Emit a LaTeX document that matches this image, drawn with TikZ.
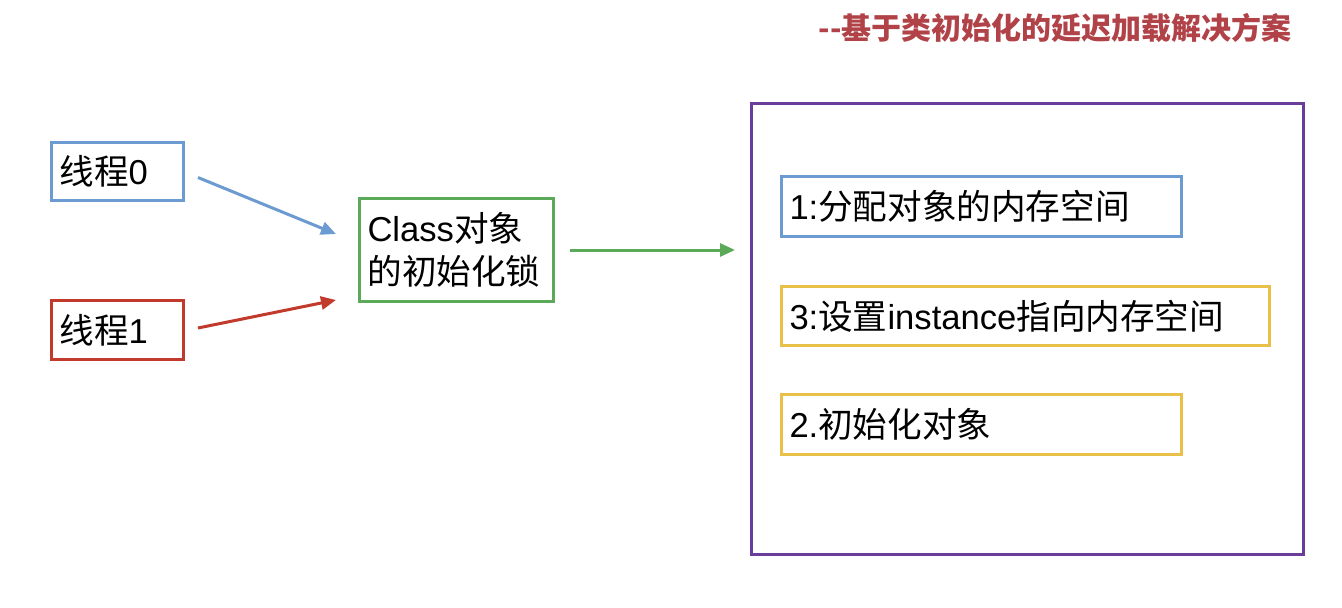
\documentclass[tikz,border=0pt]{standalone}
\usepackage{fontspec}
\setmainfont{Liberation Sans}
\newfontfamily\cjk{Noto Sans CJK SC}
\usetikzlibrary{arrows.meta}
\definecolor{cblue}{HTML}{6C9BD2}
\definecolor{cred}{HTML}{C23A2B}
\definecolor{cgreen}{HTML}{5AAA5A}
\definecolor{cpurple}{HTML}{6A3D9A}
\definecolor{cyellow}{HTML}{E8C04A}
\definecolor{ctitle}{HTML}{B04248}
\tikzset{
  box/.style={draw, line width=3pt, anchor=north west, inner xsep=8pt, inner ysep=0pt, align=left, font=\fontsize{34.6}{43}\selectfont},
  conn/.style={line width=3pt, -{Triangle[length=15pt,width=13pt]}},
}
\begin{document}
\begin{tikzpicture}[x=1pt,y=-1pt]
\fill[white] (0,0) rectangle (1342,608);
\useasboundingbox (0,0) rectangle (1342,608);
\node[font=\cjk\bfseries\fontsize{30}{36}\selectfont, text=ctitle, anchor=east, inner sep=0pt] (title) at (1292,28) {--基于类初始化的延迟加载解决方案};
\node[box, draw=cblue, text width=116pt, minimum height=58pt] (t0) at (50,141) {{\cjk 线程}0};
\node[box, draw=cred, text width=116pt, minimum height=59pt] (t1) at (50,299) {{\cjk 线程}1};
\node[box, draw=cgreen, text width=178pt, minimum height=103pt] (cls) at (358,197) {Class{\cjk 对象}\\{\cjk 的初始化锁}};
\node[draw=cpurple, line width=3pt, anchor=north west, minimum width=552pt, minimum height=451pt, inner sep=0pt] (big) at (750,102) {};
\node[box, draw=cblue, text width=384pt, minimum height=60pt] (s1) at (780,175) {1:{\cjk 分配对象的内存空间}};
\node[box, draw=cyellow, text width=472pt, minimum height=59pt] (s3) at (780,285) {3:{\cjk 设置}instance{\cjk 指向内存空间}};
\node[box, draw=cyellow, text width=384pt, minimum height=60pt] (s2) at (780,393) {2.{\cjk 初始化对象}};
\draw[conn, draw=cblue, fill=cblue] ([shift={(13,6)}]t0.east) -- ([shift={(-22,-16)}]cls.west);
\draw[conn, draw=cred, fill=cred] ([shift={(13,-2)}]t1.east) -- ([shift={(-22,50)}]cls.west);
\draw[conn, draw=cgreen, fill=cgreen] ([xshift=15pt]cls.east) -- ([xshift=-15pt]cls.east -| big.west);
\end{tikzpicture}
\end{document}
